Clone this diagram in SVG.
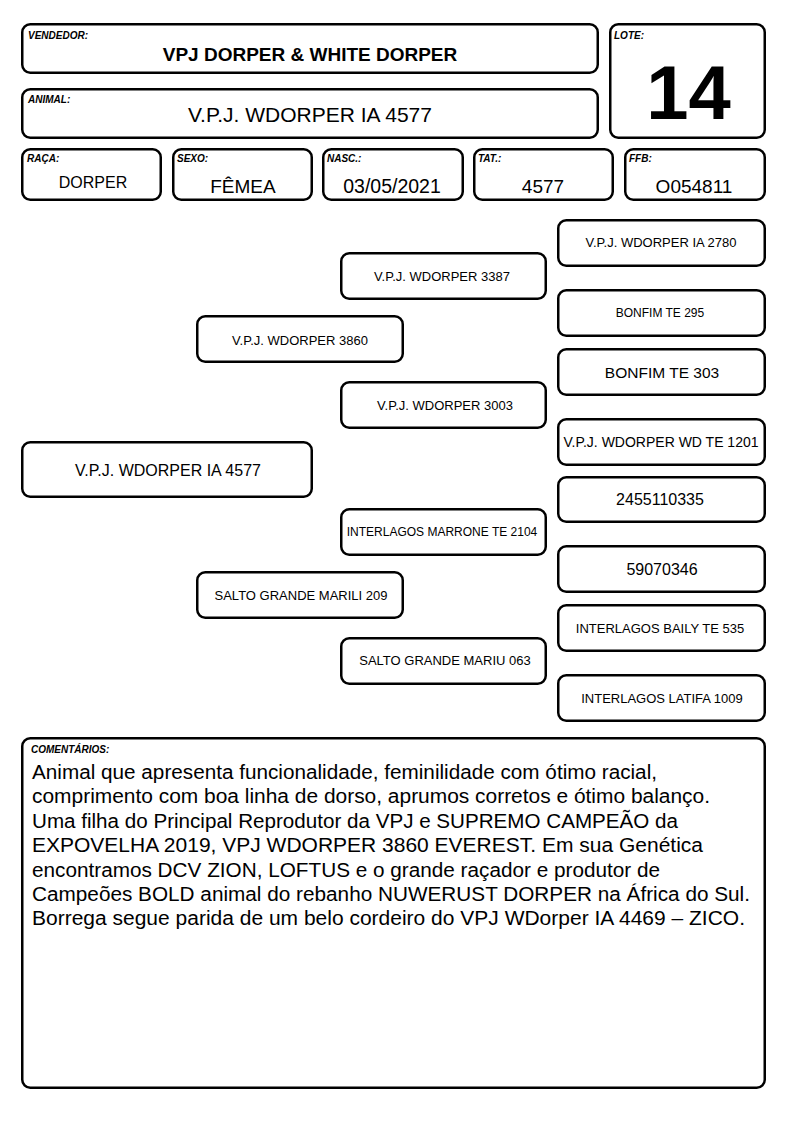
<svg xmlns="http://www.w3.org/2000/svg" width="794" height="1123" viewBox="0 0 794 1123">
<style>
.box{fill:#fff;stroke:#000;stroke-width:2.5}
.lbl{font-family:"Liberation Sans",Arial,sans-serif;font-size:10px;font-weight:bold;font-style:italic;fill:#000}
.t{font-family:"Liberation Sans",Arial,sans-serif;fill:#000;text-anchor:middle}
.c{font-family:"Liberation Sans",Arial,sans-serif;fill:#000;font-size:19.5px}
</style>
<rect width="794" height="1123" fill="#fff"/>
<g id="vendedor">
<rect class="box" x="22.25" y="24.25" width="575.5" height="48.5" rx="8"/>
<text class="lbl" x="28" y="38.7">VENDEDOR:</text>
<text class="t" x="310" y="61" font-size="19" font-weight="bold">VPJ DORPER &amp; WHITE DORPER</text>
</g>
<g id="lote">
<rect class="box" x="610.25" y="24.25" width="154.5" height="113.5" rx="8"/>
<text class="lbl" x="614" y="38.7">LOTE:</text>
<text class="t" x="688.5" y="118.7" font-size="76" font-weight="bold">14</text>
</g>
<g id="animal">
<rect class="box" x="22.25" y="89.25" width="575.5" height="48.5" rx="8"/>
<text class="lbl" x="28" y="103">ANIMAL:</text>
<text class="t" x="310" y="122.3" font-size="21">V.P.J. WDORPER IA 4577</text>
</g>
<g id="raca">
<rect class="box" x="22.25" y="149.25" width="138.5" height="50.5" rx="8"/>
<text class="lbl" x="27" y="162">RAÇA:</text>
<text class="t" x="93" y="188.3" font-size="16">DORPER</text>
</g>
<g id="sexo">
<rect class="box" x="173.25" y="149.25" width="138.5" height="50.5" rx="8"/>
<text class="lbl" x="177" y="162">SEXO:</text>
<text class="t" x="243" y="193.3" font-size="19">FÊMEA</text>
</g>
<g id="nasc">
<rect class="box" x="323.25" y="149.25" width="139.5" height="50.5" rx="8"/>
<text class="lbl" x="327" y="162">NASC.:</text>
<text class="t" x="392" y="193.3" font-size="19.5">03/05/2021</text>
</g>
<g id="tat">
<rect class="box" x="474.25" y="149.25" width="138.5" height="50.5" rx="8"/>
<text class="lbl" x="478" y="162">TAT.:</text>
<text class="t" x="543" y="193.3" font-size="19">4577</text>
</g>
<g id="ffb">
<rect class="box" x="625.25" y="149.25" width="139.5" height="50.5" rx="8"/>
<text class="lbl" x="629" y="162">FFB:</text>
<text class="t" x="694" y="193.3" font-size="19">O054811</text>
</g>
<g id="connectors"></g>
<g id="p-main">
<rect class="box" x="22.25" y="442.25" width="289.5" height="54.5" rx="8"/>
<text class="t" x="168" y="476" font-size="16">V.P.J. WDORPER IA 4577</text>
</g>
<g id="p-3860">
<rect class="box" x="197.25" y="316.25" width="205.5" height="45.5" rx="8"/>
<text class="t" x="300" y="344.7" font-size="13">V.P.J. WDORPER 3860</text>
</g>
<g id="p-marili">
<rect class="box" x="197.25" y="572.25" width="205.5" height="45.5" rx="8"/>
<text class="t" x="301" y="599.7" font-size="13">SALTO GRANDE MARILI 209</text>
</g>
<g id="p-3387">
<rect class="box" x="341.25" y="253.25" width="204.5" height="45.5" rx="8"/>
<text class="t" x="442" y="280.7" font-size="13">V.P.J. WDORPER 3387</text>
</g>
<g id="p-3003">
<rect class="box" x="341.25" y="382.25" width="204.5" height="45.5" rx="8"/>
<text class="t" x="445" y="409.7" font-size="13">V.P.J. WDORPER 3003</text>
</g>
<g id="p-marrone">
<rect class="box" x="341.25" y="509.25" width="204.5" height="45.5" rx="8"/>
<text class="t" x="442" y="536.3" font-size="12">INTERLAGOS MARRONE TE 2104</text>
</g>
<g id="p-mariu">
<rect class="box" x="341.25" y="638.25" width="204.5" height="45.5" rx="8"/>
<text class="t" x="445" y="665.2" font-size="13">SALTO GRANDE MARIU 063</text>
</g>
<g id="p-2780">
<rect class="box" x="558.25" y="220.25" width="206.5" height="45.5" rx="8"/>
<text class="t" x="661" y="247.3" font-size="13">V.P.J. WDORPER IA 2780</text>
</g>
<g id="p-bonfim295">
<rect class="box" x="558.25" y="290.25" width="206.5" height="45.5" rx="8"/>
<text class="t" x="660" y="317" font-size="12">BONFIM TE 295</text>
</g>
<g id="p-bonfim303">
<rect class="box" x="558.25" y="349.25" width="206.5" height="45.5" rx="8"/>
<text class="t" x="662" y="377.5" font-size="15.5">BONFIM TE 303</text>
</g>
<g id="p-1201">
<rect class="box" x="558.25" y="419.25" width="206.5" height="45.5" rx="8"/>
<text class="t" x="661" y="446.7" font-size="14">V.P.J. WDORPER WD TE 1201</text>
</g>
<g id="p-2455110335">
<rect class="box" x="558.25" y="477.25" width="206.5" height="44.5" rx="8"/>
<text class="t" x="660" y="505" font-size="16">2455110335</text>
</g>
<g id="p-59070346">
<rect class="box" x="558.25" y="546.25" width="206.5" height="45.5" rx="8"/>
<text class="t" x="662" y="574.5" font-size="16">59070346</text>
</g>
<g id="p-baily">
<rect class="box" x="558.25" y="605.25" width="206.5" height="45.5" rx="8"/>
<text class="t" x="660" y="632.7" font-size="13">INTERLAGOS BAILY TE 535</text>
</g>
<g id="p-latifa">
<rect class="box" x="558.25" y="675.25" width="206.5" height="45.5" rx="8"/>
<text class="t" x="662" y="702.7" font-size="13">INTERLAGOS LATIFA 1009</text>
</g>
<g id="comentarios">
<rect class="box" x="22.25" y="738.25" width="742.5" height="349.5" rx="8"/>
<text class="lbl" x="31" y="752.7">COMENTÁRIOS:</text>
<text class="c" x="32" y="779" textLength="625" lengthAdjust="spacingAndGlyphs">Animal que apresenta funcionalidade, feminilidade com ótimo racial,</text>
<text class="c" x="32" y="803.4" textLength="678" lengthAdjust="spacingAndGlyphs">comprimento com boa linha de dorso, aprumos corretos e ótimo balanço.</text>
<text class="c" x="32" y="827.8" textLength="646" lengthAdjust="spacingAndGlyphs">Uma filha do Principal Reprodutor da VPJ e SUPREMO CAMPEÃO da</text>
<text class="c" x="32" y="852.2" textLength="671" lengthAdjust="spacingAndGlyphs">EXPOVELHA 2019, VPJ WDORPER 3860 EVEREST. Em sua Genética</text>
<text class="c" x="32" y="876.6" textLength="628" lengthAdjust="spacingAndGlyphs">encontramos DCV ZION, LOFTUS e o grande raçador e produtor de</text>
<text class="c" x="32" y="901" textLength="718" lengthAdjust="spacingAndGlyphs">Campeões BOLD animal do rebanho NUWERUST DORPER na África do Sul.</text>
<text class="c" x="32" y="925.4" textLength="713" lengthAdjust="spacingAndGlyphs">Borrega segue parida de um belo cordeiro do VPJ WDorper IA 4469 – ZICO.</text>
</g>
</svg>
